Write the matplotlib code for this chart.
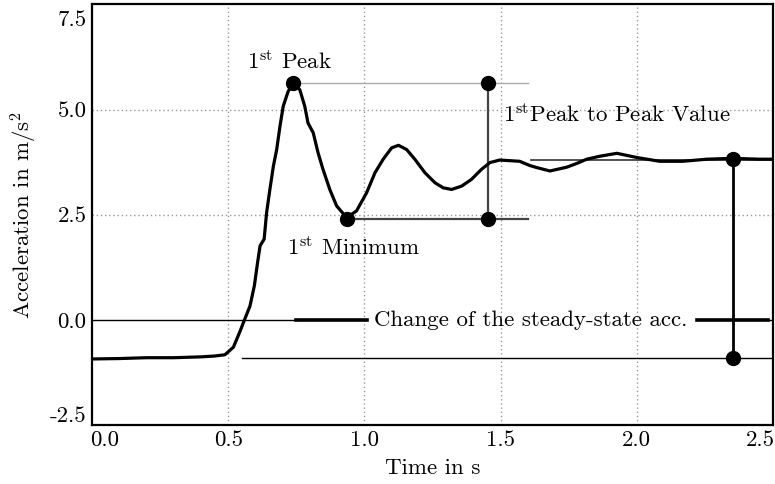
import matplotlib
matplotlib.use('Agg')
import matplotlib.pyplot as plt
import matplotlib.transforms as mtransforms

plt.rcParams['font.family'] = ['cmr10', 'DejaVu Serif']
plt.rcParams['mathtext.fontset'] = 'cm'
plt.rcParams['axes.unicode_minus'] = False

time = [0.00, 0.10, 0.20, 0.30, 0.40, 0.45, 0.488, 0.519, 0.543, 0.561,
        0.580, 0.596, 0.608, 0.617, 0.632, 0.641, 0.653, 0.666, 0.678, 0.690,
        0.702, 0.720, 0.739, 0.763, 0.781, 0.793, 0.812, 0.830, 0.848, 0.873,
        0.898, 0.935, 0.971, 1.008, 1.039, 1.069, 1.100, 1.125, 1.155, 1.185,
        1.222, 1.259, 1.289, 1.320, 1.357, 1.393, 1.430, 1.461, 1.497, 1.546,
        1.57, 1.607, 1.633, 1.681, 1.743, 1.780, 1.816, 1.864, 1.927, 2.0,
        2.084, 2.169, 2.257, 2.352, 2.451, 2.5]
accel = [-0.93, -0.92, -0.90, -0.90, -0.88, -0.86, -0.83, -0.65, -0.28, 0.02,
         0.33, 0.81, 1.37, 1.76, 1.92, 2.55, 3.10, 3.66, 4.05, 4.60,
         5.08, 5.43, 5.63, 5.47, 5.08, 4.68, 4.45, 3.97, 3.58, 3.10,
         2.71, 2.43, 2.59, 3.02, 3.50, 3.82, 4.09, 4.15, 4.05, 3.82,
         3.50, 3.26, 3.14, 3.10, 3.18, 3.34, 3.58, 3.74, 3.80, 3.78,
         3.77, 3.67, 3.62, 3.54, 3.63, 3.72, 3.82, 3.89, 3.96, 3.86,
         3.77, 3.77, 3.82, 3.84, 3.82, 3.82]

# characteristic points
peak_t, peak_a = 0.739, 5.63
min_t, min_a = 0.935, 2.40
p2p_t = 1.453
start_a = -0.90
steady_t, steady_a = 2.352, 3.82

xticks = [0.0, 0.5, 1.0, 1.5, 2.0, 2.5]
xticklabels = ['0.0', '0.5', '1.0', '1.5', '2.0', '2.5']
yticks = [-2.5, 0.0, 2.5, 5.0, 7.5]
yticklabels = ['-2.5', '0.0', '2.5', '5.0', '7.5']

fs = 16.5

fig = plt.figure(figsize=(7.75, 4.84), dpi=100)
ax = fig.add_axes([92 / 775, 1 - 425 / 484, 681 / 775, 421 / 484])

ax.set_xlim(0, 2.5)
ax.set_ylim(-2.46, 7.51)
ax.set_xticks(xticks)
ax.set_xticklabels(xticklabels, fontsize=fs)
ax.set_yticks(yticks)
ax.set_yticklabels(yticklabels, fontsize=fs)
ax.tick_params(length=0, pad=4)
for s in ax.spines.values():
    s.set_linewidth(1.6)

# dotted grid
for x in [0.5, 1.0, 1.5, 2.0]:
    ax.axvline(x, color='#999999', lw=1.0, ls=(0, (1, 2)), zorder=0)
for y in [2.5, 5.0]:
    ax.axhline(y, color='#999999', lw=1.0, ls=(0, (1, 2)), zorder=0)

# shift edge tick labels inward
def shift(lbl, dx, dy):
    off = mtransforms.ScaledTranslation(dx / 72, dy / 72, fig.dpi_scale_trans)
    lbl.set_transform(lbl.get_transform() + off)

xl = ax.get_xticklabels()
shift(xl[0], 9, 0)
shift(xl[-1], -9, 0)
yl = ax.get_yticklabels()
shift(yl[0], 0, 8)
shift(yl[-1], 0, -10)

# zero line with the label in the middle
ax.plot([0, 0.75], [0, 0], color='black', lw=1.0)
ax.plot([0.749, 1.01], [0, 0], color='black', lw=2.6)
ax.plot([2.22, 2.48], [0, 0], color='black', lw=2.6)
ax.plot([2.48, 2.5], [0, 0], color='black', lw=1.0)
ax.text(1.035, 0, 'Change of the steady-state acc.', fontsize=fs,
        ha='left', va='center')

# reference lines
ax.plot([0.55, 2.5], [start_a, start_a], color='black', lw=1.0)
ax.plot([peak_t, 1.6], [peak_a, peak_a], color='#aaaaaa', lw=1.0)
ax.plot([min_t, 1.6], [min_a, min_a], color='#444444', lw=1.6)
ax.plot([1.61, 2.5], [3.80, 3.80], color='#333333', lw=1.2)
ax.plot([p2p_t, p2p_t], [peak_a, min_a], color='#444444', lw=1.6)
ax.plot([steady_t, steady_t], [steady_a, start_a], color='black', lw=2.0)

# signal
ax.plot(time, accel, color='black', lw=2.3, solid_joinstyle='round')

# markers
mx = [peak_t, min_t, p2p_t, p2p_t, steady_t, steady_t]
my = [peak_a, min_a, peak_a, min_a, steady_a, start_a]
ax.plot(mx, my, 'o', color='black', ms=10, zorder=5)

ax.text(0.57, 6.14, r'1$^{\rm st}$ Peak', fontsize=fs, ha='left', va='center')
ax.text(0.716, 1.73, r'1$^{\rm st}$ Minimum', fontsize=fs, ha='left', va='center')
ax.text(1.508, 4.88, r'1$^{\rm st}$Peak to Peak Value', fontsize=fs,
        ha='left', va='center')

ax.set_xlabel('Time in s', fontsize=fs, labelpad=6)
ax.set_ylabel(r'Acceleration in m/s$^2$', fontsize=fs, labelpad=8)

fig.savefig('out.png', dpi=100)
